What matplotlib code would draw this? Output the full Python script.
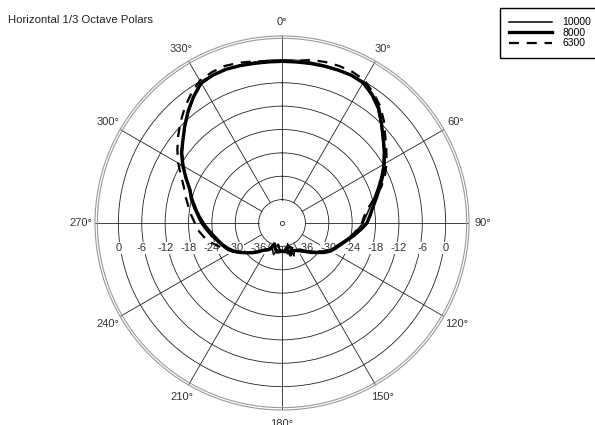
import numpy as np
import matplotlib
matplotlib.use('Agg')
from matplotlib import pyplot as plt

plt.rcParams['font.family'] = ['Liberation Sans', 'DejaVu Sans']

# measurement angles (deg, clockwise from front)
angles = list(range(0, 360, 5))

# relative level in dB for each 1/3 octave band
spl_10000 = [-0.6, -0.6, -0.5, -0.3, -0.1, 0.0, -0.6, -2.0, -3.8, -6.1, -8.3, -10.2,
             -12.0, -14.0, -15.9, -17.6, -19.1, -20.3, -21.2, -22.5, -23.8, -25.2, -26.3, -27.2,
             -28.0, -29.2, -30.6, -31.8, -32.8, -33.6, -34.2, -34.4, -33.0, -36.5, -34.0, -34.8,
             -35.0, -34.8, -35.0, -33.6, -34.8, -35.0, -34.2, -33.6, -32.6, -31.4, -30.3, -29.1,
             -27.9, -26.9, -26.0, -25.2, -24.3, -23.2, -22.0, -20.8, -19.6, -18.3, -17.0, -15.0,
             -12.9, -10.8, -8.9, -6.9, -4.7, -2.6, -0.7, -0.2, -0.1, -0.3, -0.5, -0.6]
spl_8000 = [-0.5, -0.5, -0.4, -0.3, -0.2, -0.1, -0.4, -1.7, -3.4, -5.9, -8.1, -9.9,
            -11.7, -13.5, -15.3, -16.9, -18.3, -19.3, -20.2, -21.8, -23.3, -24.8, -25.9, -26.8,
            -27.6, -28.8, -30.2, -31.3, -32.4, -33.2, -33.8, -34.2, -34.5, -33.5, -35.5, -34.6,
            -34.8, -34.6, -34.4, -35.2, -36.3, -34.5, -34.0, -33.4, -32.3, -31.2, -30.1, -28.8,
            -27.5, -26.4, -25.6, -24.8, -23.7, -22.6, -21.4, -20.4, -19.2, -17.9, -16.8, -14.8,
            -12.6, -10.5, -8.8, -6.7, -4.5, -2.4, -0.5, -0.1, 0.0, -0.2, -0.4, -0.5]
spl_6300 = [-0.4, -0.2, 0.5, 0.8, 0.9, 0.8, 0.3, -1.2, -2.8, -5.0, -7.4, -9.3,
            -11.0, -12.8, -14.9, -17.5, -19.5, -20.8, -21.5, -22.6, -23.8, -25.0, -26.2, -27.2,
            -28.2, -29.3, -30.6, -31.7, -32.6, -33.5, -34.3, -34.8, -35.3, -36.0, -34.8, -35.2,
            -35.4, -35.0, -36.4, -34.6, -35.0, -34.7, -34.2, -33.5, -32.6, -31.5, -30.2, -28.8,
            -27.4, -26.0, -24.6, -23.0, -21.6, -20.4, -19.6, -18.6, -17.6, -16.4, -15.2, -13.4,
            -11.2, -9.2, -7.2, -5.2, -3.2, -1.4, 0.2, 0.7, 0.9, 0.6, 0.1, -0.3]

ring_levels = [-36, -30, -24, -18, -12, -6, 0]
spoke_angles = list(range(0, 360, 30))
r_min, r_max = -42, 6


def closed(values):
    return np.append(values, values[0])


def draw_polar():
    fig = plt.figure(figsize=(5.95, 4.25), dpi=100)
    ax = fig.add_axes([0.1597, 0.0353, 0.6286, 0.88], projection='polar')
    ax.set_theta_zero_location('N')
    ax.set_theta_direction(-1)
    ax.set_rlim(r_min, r_max)

    # rings
    ax.set_rgrids(ring_levels, labels=[''] * len(ring_levels))
    ax.yaxis.grid(True, color='#222222', linewidth=0.6)
    ax.set_xticks([])
    ax.xaxis.grid(False)

    # spokes start at the inner ring
    for a in spoke_angles:
        t = np.deg2rad(a)
        ax.plot([t, t], [ring_levels[0], r_max], color='#222222', linewidth=0.6, zorder=1)
        ax.text(t, 9.6, f'{a}°', ha='center', va='center', fontsize=8, color='#333333')

    # double outer rim
    full = np.linspace(0, 2 * np.pi, 361)
    ax.spines['polar'].set_color('#9a9a9a')
    ax.spines['polar'].set_linewidth(0.8)
    ax.plot(full, np.full_like(full, 5.4), color='#9a9a9a', linewidth=0.8, zorder=1)

    ax.plot(0, r_min, 'o', ms=3, mfc='white', mec='#222222', mew=0.6, zorder=2)

    # dB labels along the 90/270 line
    for lvl in ring_levels:
        for side in (np.pi / 2, 3 * np.pi / 2):
            ax.annotate(str(lvl), xy=(side, lvl), xytext=(0, -18), textcoords='offset points',
                        ha='center', va='center', fontsize=8, color='#333333', zorder=3,
                        bbox=dict(fc='white', ec='none', pad=0.6))

    theta = closed(np.deg2rad(angles))
    ax.plot(theta, closed(spl_10000), color='black', linewidth=1.1, label='10000', zorder=5)
    ax.plot(theta, closed(spl_8000), color='black', linewidth=2.4, label='8000', zorder=4)
    ax.plot(theta, closed(spl_6300), color='black', linewidth=1.6, linestyle=(0, (4.5, 3.5)),
            label='6300', zorder=4)

    fig.text(8 / 595, 1 - 20 / 425, 'Horizontal 1/3 Octave Polars', fontsize=8.2,
             ha='left', va='center', color='#222222')

    leg = fig.legend(loc='upper left', bbox_to_anchor=(500 / 595, 1 - 8 / 425), fontsize=7.5,
                     frameon=True, fancybox=False, edgecolor='black', framealpha=1,
                     borderpad=0.9, labelspacing=0.05, handlelength=4.1, handletextpad=1.0,
                     borderaxespad=0)
    leg.get_frame().set_linewidth(1.0)

    fig.savefig('out.png', dpi=100)


if __name__ == '__main__':
    draw_polar()
